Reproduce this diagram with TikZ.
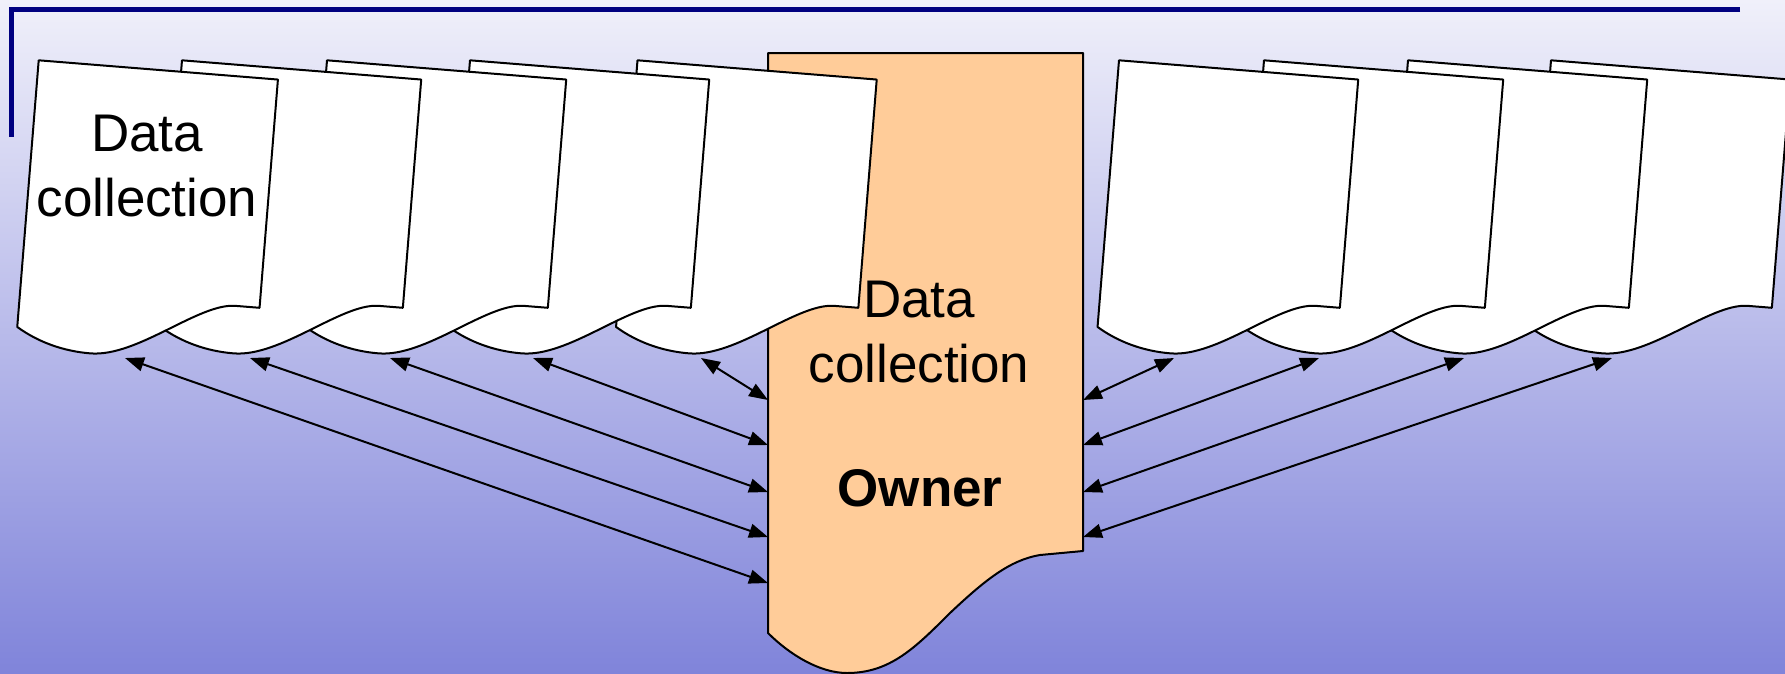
\documentclass[tikz,border=0pt]{standalone}
\usepackage{fontspec}
\setmainfont{Liberation Sans}
\usepackage{tikz}
\usetikzlibrary{arrows.meta}
\definecolor{paletop}{RGB}{240, 240, 250}
\definecolor{palebottom}{RGB}{128, 132, 218}
\definecolor{navy}{RGB}{0, 0, 128}
\definecolor{peach}{RGB}{255, 204, 153}

\begin{document}
\begin{tikzpicture}[x=1pt, y=-1pt,
  sheet/.pic={
    \filldraw[fill=white, draw=black, line width=2pt, line join=round]
      (0,0) -- (240,0) -- (240,229) -- (215,229)
      .. controls (178,230) and (122,288) .. (75,288)
      .. controls (48,288) and (22,281) .. (0,267.5) -- cycle;
  },
  link/.style={{Triangle[length=19pt, width=14pt]}-{Triangle[length=19pt, width=14pt]}, line width=2pt},
  txt/.style={align=center, inner sep=0pt, font=\fontsize{53}{65}\selectfont}]
  \useasboundingbox (0,0) rectangle (1785,673);
  \clip (0,0) rectangle (1785,673);
  \shade[top color=paletop, bottom color=palebottom] (0,0) rectangle (1785,673);
  \draw[navy, line width=5.5pt] (1740,9.5) -- (11.5,9.5) -- (11.5,137);

  \filldraw[fill=peach, draw=black, line width=2pt, line join=round]
    (768,53) -- (1083,53) -- (1083,551) -- (1040,555)
    .. controls (1010,560) and (985,580) .. (950,613)
    .. controls (915,648) and (890,673) .. (847,673)
    .. controls (820,673) and (790,655) .. (768,633) -- cycle;

  \pic[rotate=-4.6] at (637.5,60.3) {sheet};
  \pic[rotate=-4.6] at (470,60.3) {sheet};
  \pic[rotate=-4.6] at (327,60.3) {sheet};
  \pic[rotate=-4.6] at (182,60.3) {sheet};
  \pic[rotate=-4.6] at (38.7,60.3) {sheet};

  \pic[rotate=-4.6] at (1551,60.3) {sheet};
  \pic[rotate=-4.6] at (1408,60.3) {sheet};
  \pic[rotate=-4.6] at (1264,60.3) {sheet};
  \pic[rotate=-4.6] at (1119,60.3) {sheet};

  \node[txt] (firstdoc) at (147,166) {Data\\collection};
  \node[txt] (ownerdoc) at (919,332) {Data\\collection};
  \node[txt, font=\fontsize{53}{65}\selectfont\bfseries] (owner) at (920,488) {Owner};

  \coordinate (l1) at (125,358);
  \coordinate (l2) at (250,358);
  \coordinate (l3) at (390,358);
  \coordinate (l4) at (533,358);
  \coordinate (l5) at (701,358);
  \coordinate (ol1) at (768,583);
  \coordinate (ol2) at (768,537);
  \coordinate (ol3) at (768,492);
  \coordinate (ol4) at (768,445);
  \coordinate (ol5) at (768,400);
  \coordinate (r1) at (1174,358);
  \coordinate (r2) at (1319,358);
  \coordinate (r3) at (1464,358);
  \coordinate (r4) at (1612,358);
  \coordinate (or1) at (1083,400);
  \coordinate (or2) at (1083,445);
  \coordinate (or3) at (1083,492);
  \coordinate (or4) at (1083,537);

  \draw[link] (l1) -- (ol1);
  \draw[link] (l2) -- (ol2);
  \draw[link] (l3) -- (ol3);
  \draw[link] (l4) -- (ol4);
  \draw[link] (l5) -- (ol5);
  \draw[link] (r1) -- (or1);
  \draw[link] (r2) -- (or2);
  \draw[link] (r3) -- (or3);
  \draw[link] (r4) -- (or4);
\end{tikzpicture}
\end{document}
